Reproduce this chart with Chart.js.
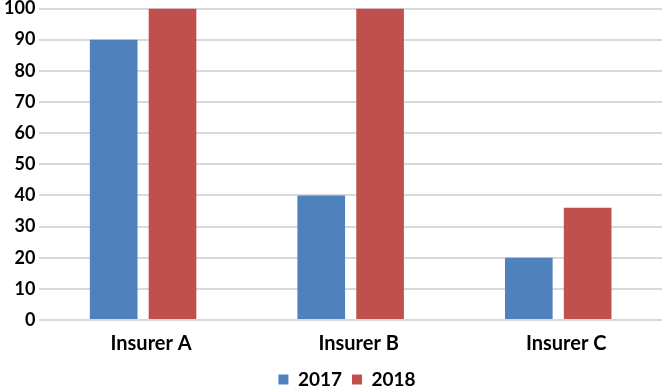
<!DOCTYPE html>
<html>
<head>
<meta charset="utf-8">
<script src="https://cdn.jsdelivr.net/npm/chart.js@4"></script>
<style>
  html, body { margin: 0; padding: 0; background: #fff; }
  #wrap { width: 662px; height: 387px; }
</style>
</head>
<body>
<div id="wrap"><canvas id="insurerChart" width="662" height="387"></canvas></div>
<script>
const categories = ['Insurer A', 'Insurer B', 'Insurer C'];
const values2017 = [90, 40, 20];
const values2018 = [100, 100, 36];
const yTicks = [0, 10, 20, 30, 40, 50, 60, 70, 80, 90, 100];

// nudge the legend a bit to the right like the original
const legendShift = {
  id: 'legendShift',
  afterLayout(chart) {
    if (chart.legend) {
      chart.legend.left += 16;
      chart.legend.right += 16;
    }
  }
};

const ctx = document.getElementById('insurerChart');
new Chart(ctx, {
  type: 'bar',
  data: {
    labels: categories,
    datasets: [
      { label: '2017', data: values2017, backgroundColor: '#4F81BD' },
      { label: '2018', data: values2018, backgroundColor: '#C0504D' }
    ]
  },
  options: {
    responsive: false,
    animation: false,
    layout: { padding: { top: 2, left: 0, right: 0, bottom: -12 } },
    datasets: {
      bar: { categoryPercentage: 0.567, barPercentage: 0.81 }
    },
    scales: {
      x: {
        grid: { display: false },
        border: { display: false },
        ticks: { color: '#000', font: { family: 'Lato', size: 20, weight: 'bold', lineHeight: 1.6 }, padding: 0, labelOffset: 8 }
      },
      y: {
        min: 0,
        max: 100,
        afterBuildTicks: (axis) => { axis.ticks = yTicks.map(v => ({ value: v })); },
        grid: { color: '#D9D9D9', lineWidth: 2, drawTicks: false },
        border: { display: false },
        ticks: { color: '#000', font: { family: 'Lato', size: 18, weight: 'bold', lineHeight: 0.5 }, padding: 4 }
      }
    },
    plugins: {
      legend: {
        position: 'bottom',
        labels: {
          color: '#000',
          boxWidth: 10,
          boxHeight: 10,
          padding: 10,
          font: { family: 'Lato', size: 19, weight: 'bold' }
        }
      },
      tooltip: { enabled: false }
    }
  },
  plugins: [legendShift]
});
</script>
</body>
</html>
